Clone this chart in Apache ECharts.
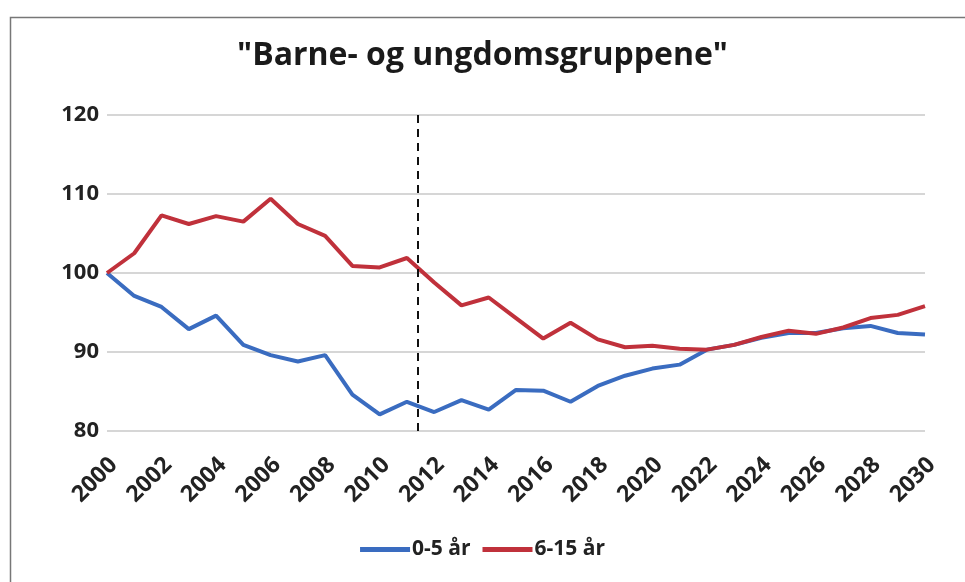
<!DOCTYPE html>
<html>
<head>
<meta charset="utf-8">
<script src="https://cdn.jsdelivr.net/npm/echarts@6/dist/echarts.min.js"></script>
<style>html,body{margin:0;padding:0;background:#fff}#c{width:965px;height:582px}</style>
</head>
<body>
<div id="c"></div>
<script>
const years = [2000,2001,2002,2003,2004,2005,2006,2007,2008,2009,2010,2011,2012,2013,2014,2015,2016,2017,2018,2019,2020,2021,2022,2023,2024,2025,2026,2027,2028,2029,2030];
const age0to5 = [100,97.1,95.7,92.9,94.6,90.9,89.6,88.8,89.6,84.6,82.1,83.7,82.4,83.9,82.7,85.2,85.1,83.7,85.7,87.0,87.9,88.4,90.3,90.9,91.8,92.4,92.4,93.0,93.3,92.4,92.2];
const age6to15 = [100,102.5,107.3,106.2,107.2,106.5,109.4,106.2,104.7,100.9,100.7,101.9,98.8,95.9,96.9,94.3,91.7,93.7,91.6,90.6,90.8,90.4,90.3,90.9,91.9,92.7,92.3,93.1,94.3,94.7,95.8];
const seriesNames = ['0-5 år','6-15 år'];
const titleText = '"Barne- og ungdomsgruppene"';
const dividerYear = 2011.4;

const FONT = '"Open Sans", Lato, sans-serif';
const chart = echarts.init(document.getElementById('c'), null, {renderer:'canvas'});
const toPairs = arr => years.map((y,i)=>[y,arr[i]]);
chart.setOption({
  animation:false,
  backgroundColor:'#fff',
  graphic:[{type:'rect',left:8,top:15,shape:{width:1000,height:600},style:{fill:'none',stroke:'#777',lineWidth:1.5},silent:true}],
  title:{text:titleText,left:'center',top:35,textStyle:{fontFamily:FONT,fontWeight:'bold',fontSize:32,color:'#1a1a1a'}},
  legend:{data:seriesNames,top:534,left:'center',icon:'rect',itemWidth:50,itemHeight:5,itemGap:12,
    textStyle:{fontFamily:FONT,fontWeight:'bold',fontSize:21,color:'#222',padding:[0,0,0,-3]}},
  grid:{left:107,right:40,top:115,bottom:151},
  xAxis:{type:'value',min:2000,max:2030,interval:2,
    axisLine:{show:false},axisTick:{show:false},splitLine:{show:false},
    axisLabel:{rotate:45,margin:37,align:'center',verticalAlign:'middle',padding:[0,34,0,0],fontFamily:FONT,fontWeight:'bold',fontSize:23,color:'#222',formatter:v=>String(v)}},
  yAxis:{type:'value',min:80,max:120,interval:10,
    axisLine:{show:false},axisTick:{show:false},
    splitLine:{lineStyle:{color:'#c8c8c8',width:1.5}},
    axisLabel:{margin:8,fontFamily:FONT,fontWeight:'bold',fontSize:22,color:'#222'}},
  series:[
    {name:seriesNames[0],type:'line',data:toPairs(age0to5),symbol:'none',lineStyle:{color:'#3a6cc0',width:4},itemStyle:{color:'#3a6cc0'},
      markLine:{symbol:'none',silent:true,label:{show:false},lineStyle:{color:'#111',type:[8,6],width:2},data:[{xAxis:dividerYear}]}},
    {name:seriesNames[1],type:'line',data:toPairs(age6to15),symbol:'none',lineStyle:{color:'#c0313b',width:4},itemStyle:{color:'#c0313b'}}
  ]
});
</script>
</body>
</html>
